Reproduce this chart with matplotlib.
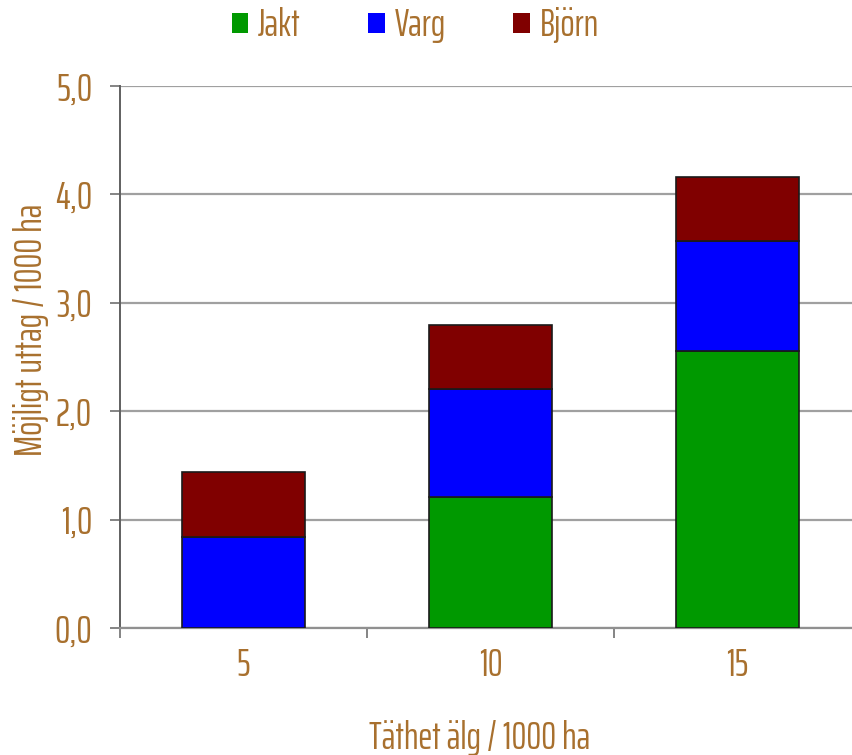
#!/usr/bin/env python3
"""
Stacked bars: possible moose harvest per 1000 ha split into hunting,
wolf and bear, for three moose densities.
"""

import numpy as np
import matplotlib.pyplot as plt
from matplotlib.patches import Patch

densities = ["5", "10", "15"]
jakt = [0.0, 1.21, 2.555]
varg = [0.84, 0.995, 1.015]
bjorn = [0.60, 0.59, 0.59]

series_names = ["Jakt", "Varg", "Björn"]
colors = ["#009900", "#0000ff", "#800000"]
text_color = "#a8702e"

plt.rcParams['font.family'] = ['Saira ExtraCondensed', 'DejaVu Sans']


def stacked():
    fig = plt.figure(figsize=(8.52, 7.55), dpi=100)
    ax = fig.add_axes([0.1408, 0.1682, 0.8697, 0.7179])

    # stack the three series on top of each other
    x = np.arange(len(densities))
    bottom = np.zeros(len(densities))
    for vals, col in zip([jakt, varg, bjorn], colors):
        ax.bar(x, vals, width=0.5, bottom=bottom, color=col,
               edgecolor="#1a1a1a", linewidth=1.2, zorder=3)
        bottom += np.array(vals)

    ax.set_xlim(-0.5, 2.5)
    ax.set_ylim(0, 5)

    # y ticks with decimal comma and horizontal grid
    yt = np.arange(0, 5.01, 1.0)
    ax.set_yticks(yt)
    ax.set_yticklabels([f"{v:.1f}".replace(".", ",") for v in yt])
    ax.grid(axis="y", color="#a0a0a0", linewidth=1.6, zorder=0)

    # tick marks between categories, labels under the bars
    ax.set_xticks([-0.5, 0.5, 1.5, 2.5])
    ax.set_xticklabels([])
    ax.set_xticks(x, minor=True)
    ax.set_xticklabels(densities, minor=True)
    ax.tick_params(axis="x", which="minor", length=0, pad=14,
                   labelsize=27, labelcolor=text_color)
    ax.tick_params(axis="x", which="major", length=7, width=1.2,
                   color="#707070", direction="out")
    ax.tick_params(axis="y", length=7, width=1.2, color="#707070",
                   labelsize=28, labelcolor=text_color, pad=13)

    for side in ("top", "right"):
        ax.spines[side].set_visible(False)
    ax.spines["left"].set_color("#606060")
    ax.spines["left"].set_linewidth(1.4)
    ax.spines["bottom"].set_color("#909090")
    ax.spines["bottom"].set_linewidth(1.6)

    ax.set_ylabel("Möjligt uttag / 1000 ha", fontsize=27, color=text_color)
    ax.yaxis.set_label_coords(-0.096, 0.55)
    ax.set_xlabel("Täthet älg / 1000 ha", fontsize=27, color=text_color)
    ax.xaxis.set_label_coords(0.485, -0.17)

    # legend across the top
    handles = [Patch(facecolor=c, edgecolor="none") for c in colors]
    fig.legend(handles, series_names, loc="upper left",
               bbox_to_anchor=(0.241, 1.025), ncol=3, frameon=False,
               fontsize=27, labelcolor=text_color, handlelength=0.45,
               handleheight=0.45, handletextpad=0.25, columnspacing=1.8,
               borderpad=0.2)

    fig.savefig("out.png", dpi=100)


stacked()
